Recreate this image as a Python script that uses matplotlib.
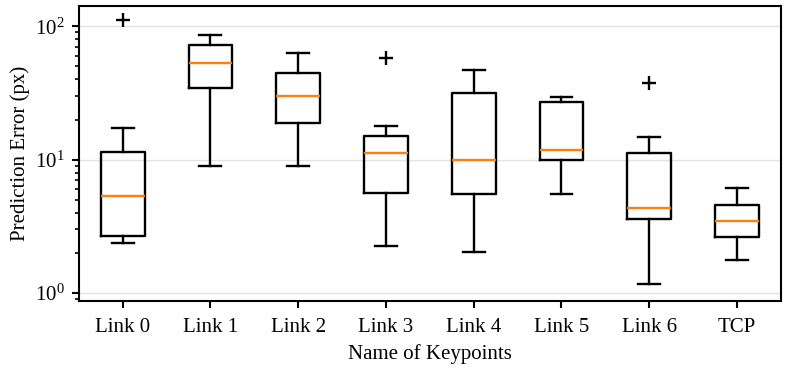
import numpy as np
import matplotlib.pyplot as plt

plt.rcParams['font.family'] = ['Liberation Serif', 'DejaVu Serif']
plt.rcParams['mathtext.fontset'] = 'stix'
plt.rcParams['font.size'] = 15

labels = ['Link 0', 'Link 1', 'Link 2', 'Link 3', 'Link 4', 'Link 5', 'Link 6', 'TCP']
whislo = [2.37, 8.97, 8.97, 2.26, 2.03, 5.56, 1.18, 1.76]
q1 = [2.68, 34.5, 18.7, 5.62, 5.56, 9.9, 3.59, 2.65]
med = [5.34, 53.4, 29.9, 11.2, 10.0, 11.8, 4.34, 3.49]
q3 = [11.4, 72.1, 44.7, 15.0, 31.8, 26.9, 11.3, 4.55]
whishi = [17.3, 86.1, 63.5, 17.9, 47.1, 29.7, 14.8, 6.10]
fliers = [[111.6], [], [], [58.2], [], [], [37.6], []]

stats = []
for i in range(len(labels)):
    stats.append(dict(label=labels[i], whislo=whislo[i], q1=q1[i], med=med[i],
                      q3=q3[i], whishi=whishi[i], fliers=fliers[i]))

fig = plt.figure(figsize=(7.88, 3.7), dpi=100)
ax = fig.add_axes([0.100, 0.186, 0.891, 0.798])
lw = 1.7
ax.bxp(stats, widths=0.5, showfliers=True,
       boxprops=dict(color='black', linewidth=lw),
       whiskerprops=dict(color='black', linewidth=lw),
       capprops=dict(color='black', linewidth=lw),
       medianprops=dict(color='#ff7f0e', linewidth=lw),
       flierprops=dict(marker='+', markeredgecolor='black', markersize=10, markeredgewidth=1.7))
ax.set_yscale('log')
ax.set_ylim(0.87, 142)
ax.set_xlim(0.5, 8.5)
ax.yaxis.grid(True, which='major', color='#e3e3e3', linewidth=1)
ax.set_axisbelow(True)
for s in ax.spines.values():
    s.set_linewidth(1.5)
ax.tick_params(which='major', length=5, width=1.5, pad=5)
ax.tick_params(axis='x', pad=7)
ax.tick_params(which='minor', length=3, width=1.2)
ax.set_ylabel('Prediction Error (px)')
ax.set_xlabel('Name of Keypoints', labelpad=5)
plt.savefig('out.png', dpi=100)
